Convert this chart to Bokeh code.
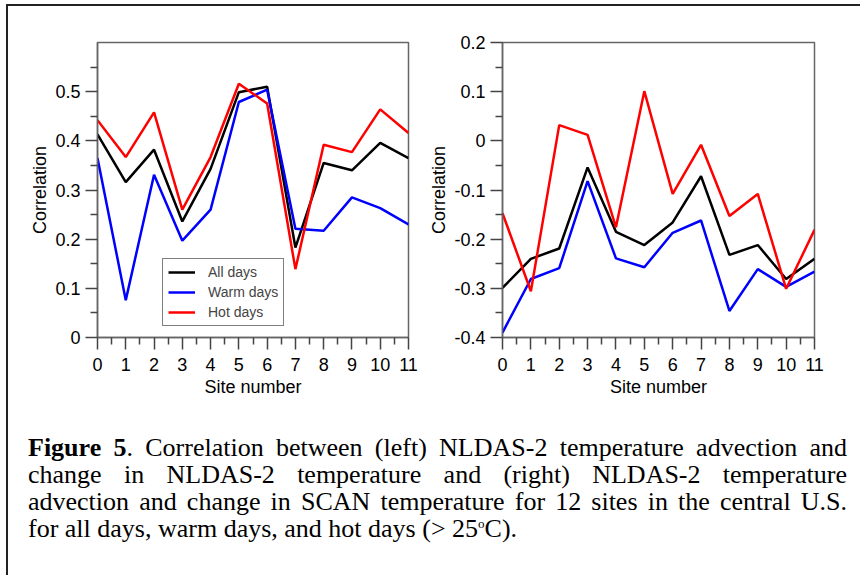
from bokeh.plotting import figure
from bokeh.layouts import row, column
from bokeh.models import (Range1d, FixedTicker, CustomJSTickFormatter, Legend,
                          LegendItem, Div)
from bokeh.embed import file_html
from bokeh.resources import INLINE

# ---------------- data ----------------
sites = [0, 1, 2, 3, 4, 5, 6, 7, 8, 9, 10, 11]

left_all = [0.413, 0.316, 0.382, 0.236, 0.343, 0.499, 0.510, 0.183, 0.355, 0.340, 0.396, 0.365]
left_warm = [0.365, 0.076, 0.331, 0.197, 0.260, 0.479, 0.504, 0.221, 0.217, 0.285, 0.263, 0.230]
left_hot = [0.442, 0.367, 0.458, 0.260, 0.367, 0.516, 0.476, 0.139, 0.392, 0.377, 0.464, 0.416]

right_all = [-0.299, -0.240, -0.219, -0.054, -0.185, -0.212, -0.166, -0.072, -0.232, -0.212, -0.281, -0.240]
right_warm = [-0.390, -0.281, -0.259, -0.082, -0.239, -0.257, -0.187, -0.162, -0.346, -0.261, -0.297, -0.266]
right_hot = [-0.147, -0.306, 0.032, 0.012, -0.176, 0.101, -0.108, -0.008, -0.153, -0.108, -0.301, -0.181]

series_names = ["All days", "Warm days", "Hot days"]
series_colors = ["#000000", "#0000ff", "#ff0000"]

left_yticks = [0, 0.1, 0.2, 0.3, 0.4, 0.5]
left_yminor = [0.05, 0.15, 0.25, 0.35, 0.45, 0.55]
right_yticks = [-0.4, -0.3, -0.2, -0.1, 0, 0.1, 0.2]
right_yminor = [-0.35, -0.25, -0.15, -0.05, 0.05, 0.15]
xticks = sites
xminor = [0.5, 1.5, 2.5, 3.5, 4.5, 5.5, 6.5, 7.5, 8.5, 9.5, 10.5]

x_label = "Site number"
y_label = "Correlation"

FONT = "Liberation Sans"
AX_COL = "#444444"

fmt = CustomJSTickFormatter(code="return (Math.abs(tick) < 1e-9) ? '0' : tick.toFixed(1);")


def make_fig(yr, yt, ym, mbl, mbr, fw):
    p = figure(frame_width=fw, frame_height=295, output_backend="svg",
               toolbar_location=None, x_range=Range1d(0, 11), y_range=Range1d(*yr),
               min_border_left=mbl, min_border_right=mbr,
               min_border_top=36, min_border_bottom=63)
    p.xgrid.visible = False
    p.ygrid.visible = False
    p.outline_line_color = "#666666"
    p.outline_line_width = 1.5
    p.background_fill_color = "white"
    p.border_fill_color = "white"
    p.xaxis.ticker = FixedTicker(ticks=xticks, minor_ticks=xminor)
    p.yaxis.ticker = FixedTicker(ticks=yt, minor_ticks=ym)
    p.yaxis.formatter = fmt
    for ax in (p.xaxis[0], p.yaxis[0]):
        ax.axis_line_color = "#666666"
        ax.axis_line_width = 1.5
        ax.major_tick_line_color = AX_COL
        ax.minor_tick_line_color = AX_COL
        ax.major_tick_line_width = 1.5
        ax.minor_tick_line_width = 1.5
        ax.major_tick_in = 0
        ax.minor_tick_in = 0
        ax.major_tick_out = 12
        ax.minor_tick_out = 7
        ax.major_label_text_font = FONT
        ax.major_label_text_font_size = "18px"
        ax.major_label_text_color = "black"
        ax.axis_label_text_font = FONT
        ax.axis_label_text_font_size = "18px"
        ax.axis_label_text_font_style = "normal"
        ax.axis_label_text_color = "black"
    p.yaxis.major_label_standoff = 5
    p.yaxis.axis_label_standoff = 2
    p.xaxis.major_label_standoff = 8
    p.xaxis.axis_label_standoff = 3
    p.xaxis.axis_label = x_label
    p.yaxis.axis_label = y_label
    return p


p1 = make_fig((0, 0.6), left_yticks, left_yminor, 89, 16, 311)
p2 = make_fig((-0.4, 0.2), right_yticks, right_yminor, 78, 46, 312)

items = []
for vals, name, col in zip([left_all, left_warm, left_hot], series_names, series_colors):
    r = p1.line(sites, vals, line_color=col, line_width=2.5)
    items.append(LegendItem(label=name, renderers=[r]))
for vals, col in zip([right_all, right_warm, right_hot], series_colors):
    p2.line(sites, vals, line_color=col, line_width=2.5)

legend = Legend(items=items, location=(65, 11), padding=5, margin=0, spacing=4,
                glyph_width=27, glyph_height=16, label_height=16, label_standoff=13,
                label_text_font=FONT, label_text_font_size="14px",
                border_line_color="black", border_line_width=1,
                background_fill_color="white", background_fill_alpha=1)
p1.add_layout(legend, "center")

caption_html = (
    '<div style="margin-left:15px;width:819px;padding-top:29px;'
    'font-family:\'Liberation Serif\';font-size:26px;line-height:27px;color:black;">'
    '<div style="text-align:justify;text-align-last:justify;white-space:nowrap;"><b>Figure 5</b>. Correlation between (left) NLDAS-2 temperature advection and</div>'
    '<div style="text-align:justify;text-align-last:justify;">change in NLDAS-2 temperature and (right) NLDAS-2 temperature</div>'
    '<div style="text-align:justify;text-align-last:justify;">advection and change in SCAN temperature for 12 sites in the central U.S.</div>'
    '<div>for all days, warm days, and hot days (&gt; 25'
    '<span style="display:inline-block;vertical-align:top;font-size:13px;line-height:13px;margin-top:2px;">o</span>C).</div>'
    '</div>'
)
caption = Div(text=caption_html, width=852, height=175)

layout = column(row(p1, p2), caption, margin=(4, 0, 0, 6),
                styles={"border-top": "2px solid #222222",
                        "border-left": "2px solid #222222",
                        "background": "white"})

open("out.html", "w").write(file_html(layout, INLINE))
